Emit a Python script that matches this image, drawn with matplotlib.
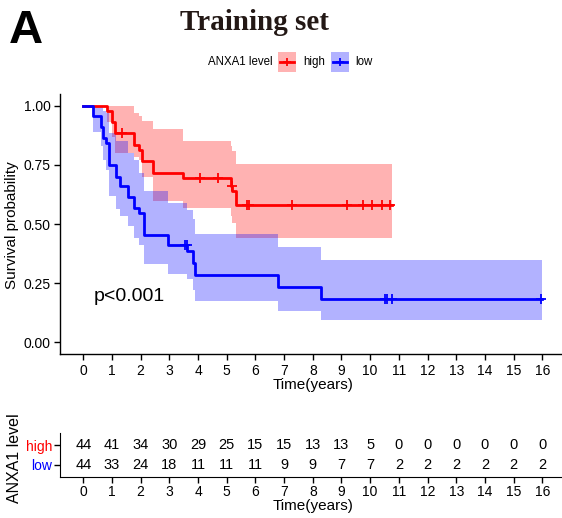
import matplotlib
matplotlib.use("Agg")
import matplotlib.pyplot as plt
from matplotlib.patches import Rectangle
from matplotlib.lines import Line2D

plt.rcParams['font.family'] = ['Liberation Sans', 'DejaVu Sans']

# ---------------- data ----------------
groups = ["high", "low"]
colors = {"high": "#FF0000", "low": "#0000FF"}

high_time = [0, 0.84, 0.99, 1.10, 1.77, 1.94, 2.03, 2.42, 3.46, 5.14, 5.20, 5.32]
high_surv = [1.0, 0.977, 0.930, 0.886, 0.836, 0.814, 0.765, 0.716, 0.693, 0.660, 0.638, 0.580]
high_upper = [1.0, 1.0, 1.0, 1.0, 0.969, 0.955, 0.934, 0.900, 0.850, 0.830, 0.807, 0.755]
high_lower = [1.0, 0.930, 0.870, 0.800, 0.785, 0.770, 0.700, 0.596, 0.568, 0.535, 0.506, 0.442]
high_end = 10.75
high_censor = [1.36, 4.07, 4.70, 5.17, 5.69, 5.77, 7.28, 9.18, 9.76, 10.08, 10.40, 10.69]

low_time = [0, 0.33, 0.62, 0.70, 0.81, 0.90, 1.13, 1.28, 1.57, 1.77, 1.93, 2.12, 2.96,
            3.63, 3.83, 3.90, 6.80, 8.27]
low_surv = [1.0, 0.955, 0.909, 0.864, 0.841, 0.750, 0.700, 0.659, 0.614, 0.568, 0.545,
            0.455, 0.410, 0.385, 0.336, 0.284, 0.232, 0.181]
low_upper = [1.0, 1.0, 1.0, 0.980, 0.970, 0.886, 0.850, 0.850, 0.800, 0.770, 0.716,
             0.640, 0.590, 0.560, 0.520, 0.456, 0.404, 0.347]
low_lower = [1.0, 0.890, 0.830, 0.770, 0.730, 0.620, 0.565, 0.533, 0.490, 0.440, 0.410,
             0.329, 0.287, 0.266, 0.220, 0.174, 0.132, 0.093]
low_end = 15.99
low_censor = [3.55, 3.62, 10.51, 10.59, 10.75, 15.97]

risk_times = list(range(0, 17))
risk_high = [44, 41, 34, 30, 29, 25, 15, 15, 13, 13, 5, 0, 0, 0, 0, 0, 0]
risk_low = [44, 33, 24, 18, 11, 11, 11, 9, 9, 7, 7, 2, 2, 2, 2, 2, 2]

y_ticks = [0.0, 0.25, 0.50, 0.75, 1.00]
y_ticklabels = ["0.00", "0.25", "0.50", "0.75", "1.00"]

# ---------------- figure ----------------
W, H = 562, 518
fig = plt.figure(figsize=(W / 100, H / 100), dpi=100)

def fr(x, y, w, h):
    return [x / W, 1 - (y + h) / H, w / W, h / H]

ax = fig.add_axes(fr(60.3, 94, 505, 260))

def surv_at(times, surv, t):
    s = surv[0]
    for ti, si in zip(times, surv):
        if ti <= t:
            s = si
    return s

series = {
    "high": (high_time, high_surv, high_upper, high_lower, high_end, high_censor),
    "low": (low_time, low_surv, low_upper, low_lower, low_end, low_censor),
}
for g in groups:
    t, s, u, l, end, cens = series[g]
    c = colors[g]
    tt = t + [end]
    ax.fill_between(tt, l + [l[-1]], u + [u[-1]], step="post", color=c, alpha=0.3, lw=0)
    ax.step(tt, s + [s[-1]], where="post", color=c, lw=2.0, zorder=3)
    cs = [surv_at(t, s, x) for x in cens]
    ax.plot(cens, cs, ls="none", marker="+", ms=7, mew=1.3, color=c, zorder=4)

ax.set_xlim(-0.8, 16.8)
ax.set_ylim(-0.05, 1.05)
ax.set_xticks(risk_times)
ax.set_yticks(y_ticks)
ax.set_yticklabels(y_ticklabels)
for sp in ["top", "right"]:
    ax.spines[sp].set_visible(False)
for sp in ["left", "bottom"]:
    ax.spines[sp].set_linewidth(1.0)
ax.tick_params(labelsize=10, length=4, width=1.0, colors="black", pad=3)
ax.set_xlabel("Time(years)", fontsize=11, labelpad=0)
fig.text(12 / W, 1 - 225 / H, "Survival probability", fontsize=11, rotation=90,
         va="center", ha="center")
ax.text(0.35, 0.194, "p<0.001", fontsize=14, va="center", ha="left")

# ---------------- risk table ----------------
axt = fig.add_axes(fr(60.3, 433, 505, 44))
axt.set_xlim(-0.8, 16.8)
axt.set_ylim(0.4, 2.6)
for x, n in zip(risk_times, risk_high):
    axt.text(x, 2, str(n), ha="center", va="center", fontsize=10.5)
for x, n in zip(risk_times, risk_low):
    axt.text(x, 1, str(n), ha="center", va="center", fontsize=10.5)
axt.set_xticks(risk_times)
axt.set_yticks([2, 1])
axt.set_yticklabels(groups, fontsize=10)
for lab, g in zip(axt.get_yticklabels(), groups):
    lab.set_color(colors[g])
for sp in ["top", "right"]:
    axt.spines[sp].set_visible(False)
axt.tick_params(axis="x", labelsize=10, length=4, width=1.0, pad=2)
axt.tick_params(axis="y", length=4, width=1.0, pad=2)
axt.set_xlabel("Time(years)", fontsize=11, labelpad=0)
fig.text(15 / W, 1 - 458 / H, "ANXA1 level", fontsize=11.5, rotation=90,
         va="center", ha="center")

# ---------------- titles / legend ----------------
fig.text(9 / W, 1 - 31 / H, "A", fontsize=34, fontweight="bold", va="center", ha="left")
fig.text(254 / W, 1 - 22 / H, "Training set", fontsize=21, fontweight="bold",
         family=["Liberation Serif", "DejaVu Serif"], va="center", ha="center", color="#231815")

fig.text(208 / W, 1 - 62 / H, "ANXA1 level", fontsize=8.3, va="center", ha="left")
legend_items = [("high", 278, 303), ("low", 331, 355)]
for g, bx, tx in legend_items:
    c = colors[g]
    fig.patches.append(Rectangle((bx / W, 1 - 72 / H), 18 / W, 20 / H, transform=fig.transFigure,
                                 facecolor=c, alpha=0.3, lw=0))
    fig.lines.append(Line2D([(bx + 2) / W, (bx + 16) / W], [1 - 62 / H] * 2, transform=fig.transFigure,
                            color=c, lw=2.0))
    fig.lines.append(Line2D([(bx + 9) / W], [1 - 62 / H], transform=fig.transFigure, color=c,
                            marker="+", ms=6, mew=1.3, ls="none"))
    fig.text(tx / W, 1 - 62 / H, g, fontsize=8.3, va="center", ha="left")

fig.savefig("out.png", dpi=100)
